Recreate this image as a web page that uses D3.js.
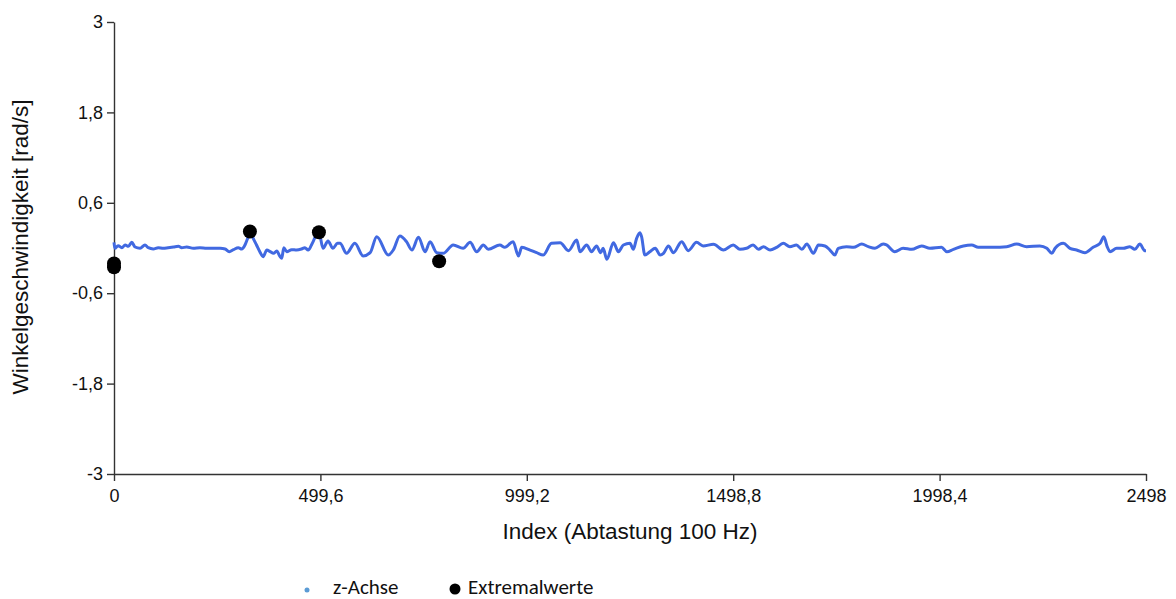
<!DOCTYPE html>
<html><head><meta charset="utf-8">
<script src="https://cdn.jsdelivr.net/npm/d3@7"></script>
<style>body{margin:0;background:#fff;}svg{display:block;}</style>
</head><body><svg id="c" width="1176" height="599"></svg>
<script>
const xTicks = [0, 499.6, 999.2, 1498.8, 1998.4, 2498];
const yTicks = [-3, -1.8, -0.6, 0.6, 1.8, 3];
const zIndex = [0,2,10,19,27,35,43,51,63,75,83,95,107,119,131,144,156,164,176,192,208,224,240,257,269,279,289,301,309,317,321,325,329,337,345,353,361,370,378,386,394,402,406,411,418,430,442,454,462,470,478,487,491,496,506,518,530,541,
547,563,583,603,620,636,664,676,692,708,721,737,753,765,781,797,821,845,862,878,894,906,934,946,966,979,987,1007,1023,1039,1059,1080,1100,1120,
1128,1144,1156,1168,1178,1184,1193,1209,1221,1233,1249,1257,1265,1273,1277,1285,1297,1310,1322,1330,1342,1354,1374,1390,1410,1426,1451,1475,1499,1515,1531,1547,1560,1572,1588,1604,1620,1636,1652,1665,1677,1693,1705,1721,1733,
1745,1753,1773,1790,1810,1826,1842,1862,1870,1890,1910,1931,1955,1975,2003,2016,2032,2056,2076,2092,2128,2161,2185,2209,2241,2258,2270,2278,2298,2314,2330,2350,2370,2387,2396,2404,2411,2427,2443,2459,2471,2483,2495,2498];
const zValues = [0.075,-0.004,0.031,0.004,0.04,0.022,0.075,0.013,-0.004,0.04,0.004,-0.013,0.004,-0.004,0.004,0.013,0.022,0.004,0.013,-0.004,0.004,-0.004,-0.004,-0.004,-0.013,-0.049,-0.022,0.004,-0.013,0.04,0.093,0.15,0.22,0.128,0.04,-0.049,-0.115,-0.027,-0.049,-0.071,-0.04,-0.115,-0.137,0.004,-0.049,-0.022,-0.027,-0.013,0.004,-0.027,0.04,0.15,0.208,0.21,-0.004,0.093,-0.004,0.062,
0.062,-0.071,0.062,-0.106,-0.062,0.15,-0.093,-0.027,0.159,0.084,-0.027,0.142,-0.049,0.084,-0.062,-0.071,0.04,-0.004,0.075,-0.049,0.04,-0.018,0.04,0.009,0.084,-0.106,0.009,-0.027,-0.062,-0.093,0.062,0.071,-0.035,0.106,
-0.049,0.04,-0.049,0.027,-0.062,-0.004,-0.15,0.071,-0.049,0.04,0.062,-0.018,0.128,0.204,0.15,-0.093,-0.049,-0.004,-0.093,-0.071,0.027,-0.062,0.084,-0.035,0.075,0.027,0.049,-0.027,0.04,-0.018,-0.004,0.04,-0.018,0.018,-0.027,0.009,0.062,0.018,0.04,-0.018,0.053,-0.071,0.04,0.027,-0.027,
-0.093,-0.004,0.018,0.009,0.053,0.018,-0.004,0.053,0.04,-0.049,-0.004,-0.018,0.027,-0.004,0.009,-0.049,-0.018,0.027,0.04,0.009,0.009,0.018,0.053,0.018,0.027,-0.004,-0.071,-0.004,0.062,-0.004,-0.027,-0.062,0.009,0.062,0.15,0.018,-0.049,-0.004,-0.004,0.018,-0.018,0.053,-0.035,-0.035];
const extIndex = [0, 0, 329, 496, 787];
const extValues = [-0.205, -0.255, 0.22, 0.21, -0.175];

const FONT = "'Liberation Sans', Arial, Helvetica, sans-serif";
const LFONT = "Carlito, Lato, 'Open Sans', sans-serif";
const svg = d3.select("#c");
const x = d3.scaleLinear().domain([0, 2498]).range([114, 1146]);
const y = d3.scaleLinear().domain([-3, 3]).range([474, 22]);
const fmt = d => String(d).replace(".", ",");

const xa = svg.append("g").attr("transform", "translate(0,474)")
  .call(d3.axisBottom(x).tickValues(xTicks).tickFormat(fmt).tickSize(7).tickSizeOuter(0));
const ya = svg.append("g").attr("transform", "translate(114,0)")
  .call(d3.axisLeft(y).tickValues(yTicks).tickFormat(fmt).tickSize(7).tickSizeOuter(0));
[xa, ya].forEach(a => {
  a.selectAll("path,line").attr("stroke", "#333").attr("stroke-width", 1.4);
  a.selectAll("text").attr("font-family", FONT).attr("font-size", 18).attr("fill", "#111");
});
xa.selectAll("text").attr("dy", "1.0em");
ya.selectAll("text").attr("dx", "-0.05em");

const line = d3.line().x((d, i) => x(zIndex[i])).y(d => y(d)).curve(d3.curveMonotoneX);
svg.append("path").datum(zValues).attr("d", line).attr("fill", "none")
  .attr("stroke", "#4169e1").attr("stroke-width", 3).attr("stroke-linejoin", "round");

svg.selectAll("circle.ext").data(extValues).join("circle").attr("class", "ext")
  .attr("cx", (d, i) => x(extIndex[i])).attr("cy", d => y(d)).attr("r", 7).attr("fill", "#000");

svg.append("text").attr("x", 630).attr("y", 539).attr("text-anchor", "middle")
  .attr("font-family", FONT).attr("font-size", 22.5).attr("fill", "#111")
  .text("Index (Abtastung 100 Hz)");
svg.append("text").attr("transform", "translate(28,247) rotate(-90)").attr("text-anchor", "middle")
  .attr("font-family", FONT).attr("font-size", 22.5).attr("fill", "#111")
  .text("Winkelgeschwindigkeit [rad/s]");

const lg = svg.append("g");
lg.append("circle").attr("cx", 307).attr("cy", 590).attr("r", 2.5).attr("fill", "#5b9bd5");
lg.append("text").attr("x", 333).attr("y", 594).attr("font-family", LFONT).attr("font-size", 21).attr("fill", "#111").text("z-Achse");
lg.append("circle").attr("cx", 455).attr("cy", 589).attr("r", 5.5).attr("fill", "#000");
lg.append("text").attr("x", 468).attr("y", 594).attr("font-family", LFONT).attr("font-size", 21).attr("fill", "#111").text("Extremalwerte");
</script></body></html>
